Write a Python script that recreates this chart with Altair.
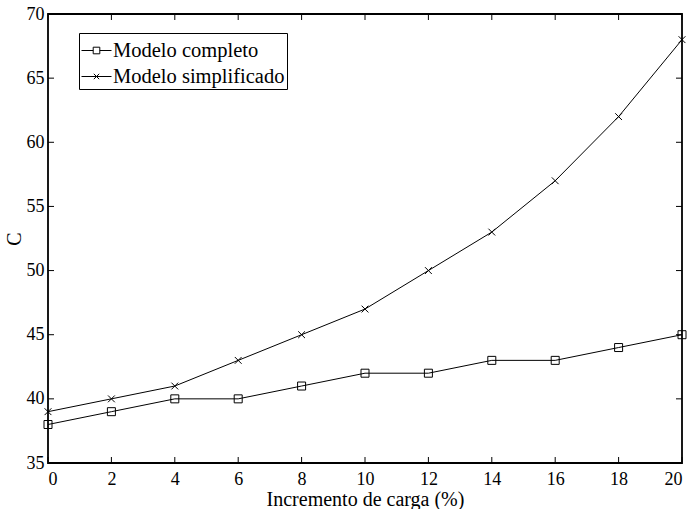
import altair as alt
import pandas as pd

# Load increment (%) and C for each model
incremento = [0, 2, 4, 6, 8, 10, 12, 14, 16, 18, 20]
modelo_completo = [38, 39, 40, 40, 41, 42, 42, 43, 43, 44, 45]
modelo_simplificado = [39, 40, 41, 43, 45, 47, 50, 53, 57, 62, 68]
series = ["Modelo completo", "Modelo simplificado"]

x_ticks = [0, 2, 4, 6, 8, 10, 12, 14, 16, 18, 20]
y_ticks = [35, 40, 45, 50, 55, 60, 65, 70]

FONT = "Liberation Serif"
W, H = 634, 449

df = pd.DataFrame({
    "incremento": incremento * 2,
    "C": modelo_completo + modelo_simplificado,
    "serie": [series[0]] * len(incremento) + [series[1]] * len(incremento),
})

xs = alt.Scale(domain=[0, 20], nice=False, zero=False)
ys = alt.Scale(domain=[35, 70], nice=False, zero=False)

axis_style = dict(
    grid=False, ticks=False, domain=False,
    labelFont=FONT, labelFontSize=18, labelColor="black",
    titleFont=FONT, titleFontSize=20, titleFontWeight="normal", titleColor="black",
)

x_axis = alt.Axis(values=x_ticks, title="Incremento de carga (%)",
                  labelPadding=7, titlePadding=1, **axis_style)
y_axis = alt.Axis(values=y_ticks, title="C", labelPadding=4, titlePadding=2, **axis_style)

# every layer uses the same scale and axis definition so they merge cleanly
xq = lambda f: alt.X(f, scale=xs, axis=x_axis)
yq = lambda f: alt.Y(f, scale=ys, axis=y_axis)

# marker paths (unit box -1..1)
X_PATH = "M-0.85,-0.85L0.85,0.85M-0.85,0.85L0.85,-0.85"
LEG_SQUARE = "M-1,0H-0.22M0.22,0H1M-0.22,-0.22H0.22V0.22H-0.22Z"
LEG_X = "M-1,0H1M-0.18,-0.18L0.18,0.18M-0.18,0.18L0.18,-0.18"

lines = alt.Chart(df).mark_line(color="black", strokeWidth=1).encode(
    x=xq("incremento:Q"), y=yq("C:Q"), detail="serie:N")

points = alt.Chart(df).mark_point(filled=False, color="black", size=64, strokeWidth=1, opacity=1).encode(
    x=xq("incremento:Q"),
    y=yq("C:Q"),
    shape=alt.Shape("serie:N", scale=alt.Scale(domain=series, range=["square", X_PATH]), legend=None),
)

legend_layer = alt.Chart(df).mark_point(filled=False, color="black", strokeWidth=1, opacity=0).encode(
    x=xq("incremento:Q"),
    y=yq("C:Q"),
    shape=alt.Shape("serie:N", scale=alt.Scale(domain=series, range=[LEG_SQUARE, LEG_X]),
                    legend=alt.Legend(
                        title=None, orient="none", legendX=31, legendY=19,
                        symbolSize=900, symbolOpacity=1, symbolStrokeColor="black",
                        symbolFillColor="transparent", symbolStrokeWidth=1,
                        labelFont=FONT, labelFontSize=20.5, labelColor="black",
                        labelLimit=0, labelOffset=1, rowPadding=-3, padding=2,
                        strokeColor="black", fillColor="white", cornerRadius=0)),
)

# inward tick marks on all four sides
xt = pd.DataFrame({"t": x_ticks})
yt = pd.DataFrame({"t": y_ticks})
tick_x_bottom = alt.Chart(xt).mark_rule(color="black", strokeWidth=1).encode(
    x=xq("t:Q"), y=alt.value(H), y2=alt.value(H - 6))
tick_x_top = alt.Chart(xt).mark_rule(color="black", strokeWidth=1).encode(
    x=xq("t:Q"), y=alt.value(0), y2=alt.value(6))
tick_y_left = alt.Chart(yt).mark_rule(color="black", strokeWidth=1).encode(
    y=yq("t:Q"), x=alt.value(0), x2=alt.value(6))
tick_y_right = alt.Chart(yt).mark_rule(color="black", strokeWidth=1).encode(
    y=yq("t:Q"), x=alt.value(W), x2=alt.value(W - 6))

chart = alt.layer(
    lines, points, legend_layer, tick_x_bottom, tick_x_top, tick_y_left, tick_y_right
).resolve_scale(shape="independent").properties(
    width=W, height=H,
    autosize=alt.AutoSizeParams(type="none"),
    padding={"left": 48, "top": 14, "right": 12, "bottom": 46},
    background="white",
).configure_view(
    stroke="black", strokeWidth=1.8
).configure_axis(**axis_style)

chart.save("out.html", embed_options={"renderer": "svg", "actions": False})
